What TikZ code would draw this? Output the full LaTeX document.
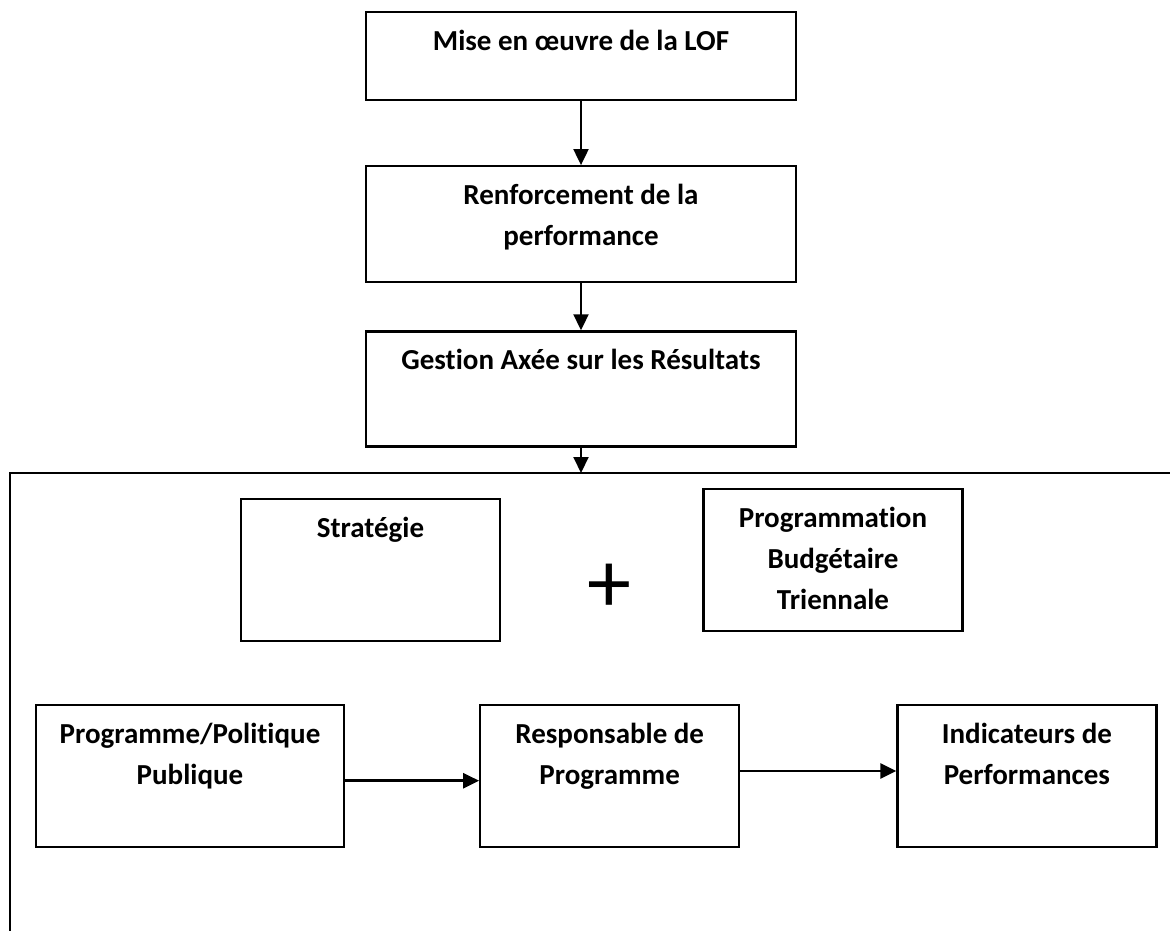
\documentclass[tikz,border=0pt]{standalone}
\usepackage{fontspec}
\setmainfont[Ligatures=NoCommon]{Carlito}
\usetikzlibrary{positioning, arrows.meta}
\tikzset{
    >={Triangle[width=15pt, length=16pt]}, % solid heads as in the original
    node distance=48pt, % gap between the boxes
    box/.style={draw, line width=2.2pt, inner sep=0pt}, % every box
    boxtext/.style={font=\fontsize{29}{41}\selectfont\bfseries, align=center,
        anchor=north, inner sep=0pt, yshift=-10.5pt}, % text sits at the top of its box
    link/.style={->, line width=2pt},
}
\begin{document}
\begin{tikzpicture}[x=1pt, y=-1pt]
    \useasboundingbox (0,0) rectangle (1170,930);
    % the chain at the top
    \node[box, minimum width=430pt, minimum height=88pt,
        label={[boxtext]north:{\strut Mise en œuvre de la LOF}}] (lof) at (581,56) {};
    \node[box, minimum width=430pt, minimum height=116pt, below=64pt of lof,
        label={[boxtext]north:{\strut Renforcement de la\\performance}}] (perf) {};
    \node[box, minimum width=430pt, minimum height=115pt, below=47pt of perf,
        label={[boxtext]north:{\strut Gestion Axée sur les Résultats}}] (gar) {};
    % the open frame
    \coordinate (ftop) at (581,473);
    \coordinate (fleft) at (10,473);
    \draw[line width=2.6pt] (1172,473) -- (fleft) -- (10,932);
    % first row in the frame
    \node[box, minimum width=259pt, minimum height=142pt,
        label={[boxtext]north:{\strut Stratégie}}] (strat) at (370.5,570) {};
    \node[box, minimum width=259pt, minimum height=142pt,
        label={[boxtext]north:{\strut Programmation\\Budgétaire\\Triennale}}] (pbt) at (833,560) {};
    \node[font=\fontsize{88}{88}\selectfont, inner sep=0pt] (plus) at (609.5,588) {+};
    % second row in the frame
    \node[box, minimum width=308pt, minimum height=142pt,
        label={[boxtext]north:{\strut Programme/Politique\\Publique}}] (prog) at (190,776) {};
    \node[box, minimum width=259pt, minimum height=142pt, right=134pt of prog,
        label={[boxtext]north:{\strut Responsable de\\Programme}}] (resp) {};
    \node[box, minimum width=259pt, minimum height=142pt, right=156pt of resp,
        label={[boxtext]north:{\strut Indicateurs de\\Performances}}] (ind) {};
    \draw[link] (lof) -- (perf);
    \draw[link] (perf) -- (gar);
    \draw[link] (gar) -- (ftop);
    \draw[link, line width=2.6pt] ([yshift=-4.7pt]prog.east) -- ([yshift=-4.7pt]resp.west);
    \draw[link, line width=2.6pt] ([yshift=5pt]resp.east) -- ([yshift=5pt]ind.west);
\end{tikzpicture}
\end{document}
